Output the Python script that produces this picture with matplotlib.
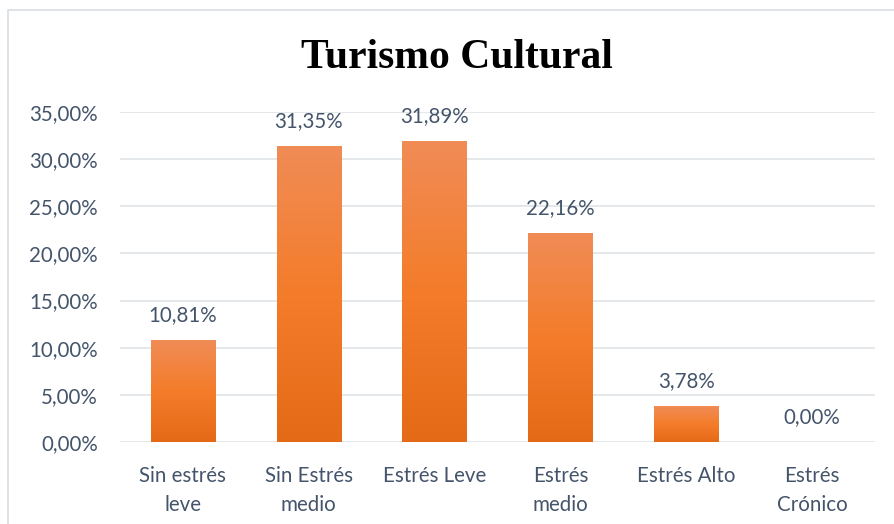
import matplotlib
matplotlib.use("Agg")
import matplotlib.pyplot as plt
from matplotlib.colors import LinearSegmentedColormap
from matplotlib.patches import Rectangle
import numpy as np

categories = ["Sin estrés\nleve", "Sin Estrés\nmedio", "Estrés Leve",
              "Estrés\nmedio", "Estrés Alto", "Estrés\nCrónico"]
values = [10.81, 31.35, 31.89, 22.16, 3.78, 0.00]
yticks = [0, 5, 10, 15, 20, 25, 30, 35]

text_color = "#44546A"
grid_color = "#DDE1E6"
font = "Lato"
fs = 14.8

fig = plt.figure(figsize=(8.94, 5.24), dpi=100)
ax = fig.add_axes([120 / 894, 1 - 442 / 524, 755 / 894, 330 / 524])

# outer chart border (only top and left edges are visible in the crop)
fig.patches.append(Rectangle((8 / 894, -0.5), 1.5, 1.5 - 10 / 524,
                             transform=fig.transFigure, fill=False,
                             edgecolor="#D9DDE2", linewidth=1.2))

grad = LinearSegmentedColormap.from_list(
    "bar", ["#E56A18", "#F47C2A", "#F08C56"])
ramp = np.linspace(0, 1, 256).reshape(-1, 1)

x = np.arange(len(categories))
width = 0.51
for xi, v in zip(x, values):
    if v > 0:
        ax.imshow(ramp, cmap=grad, origin="lower", aspect="auto",
                  extent=(xi - width / 2, xi + width / 2, 0, v), zorder=3)
    ax.annotate(f"{v:.2f}%".replace(".", ","), (xi, v), xytext=(0, 18),
                textcoords="offset points", ha="center", va="center",
                fontsize=fs, color=text_color, family=font)

ax.set_xlim(-0.5, len(categories) - 0.5)
ax.set_ylim(0, 35)
ax.set_yticks(yticks)
ax.set_yticklabels([f"{t:.2f}%".replace(".", ",") for t in yticks],
                   fontsize=fs, color=text_color, family=font)
ax.set_xticks(x)
ax.set_xticklabels(categories, fontsize=fs, color=text_color, family=font,
                   linespacing=1.6)
ax.tick_params(axis="both", length=0)
ax.tick_params(axis="y", pad=16)
ax.tick_params(axis="x", pad=17)
ax.grid(axis="y", color=grid_color, linewidth=1.1, zorder=0)
ax.set_axisbelow(True)
for s in ax.spines.values():
    s.set_visible(False)

fig.text(0.5 + 10 / 894, 1 - 58 / 524, "Turismo Cultural", ha="center",
         va="center", fontsize=30, fontweight="bold",
         family="Liberation Serif", color="black")

fig.savefig("out.png", dpi=100)
